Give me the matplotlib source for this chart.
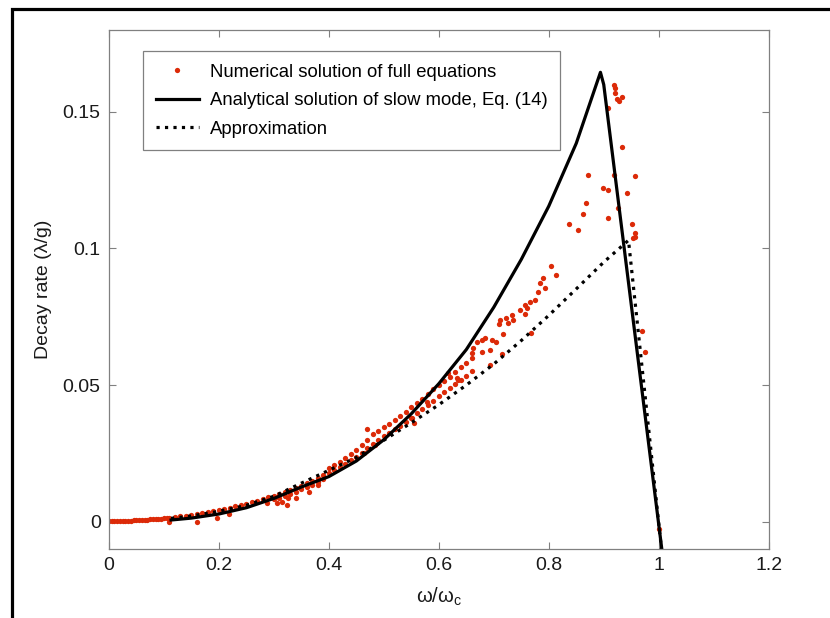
import matplotlib
matplotlib.use('Agg')

import matplotlib.pyplot as plt
from matplotlib.patches import Rectangle

plt.rcParams['font.family'] = ['Liberation Sans', 'DejaVu Sans']
plt.rcParams['mathtext.fontset'] = 'custom'
plt.rcParams['mathtext.rm'] = 'Liberation Sans'

# Solution analytique (mode lent, Eq. 14)
slow_x = [0.113, 0.15, 0.20, 0.25, 0.30, 0.35, 0.40, 0.45, 0.50, 0.55, 0.60,
          0.65, 0.70, 0.75, 0.80, 0.85, 0.894, 0.900, 1.0056]
slow_y = [0.0006, 0.0013, 0.0028, 0.0051, 0.0085, 0.0127, 0.0165, 0.0222, 0.0300,
          0.0395, 0.0505, 0.0630, 0.0785, 0.0960, 0.1155, 0.1385, 0.1645, 0.1600, -0.0100]

# Approximation
approx_x = [0.113, 0.15, 0.20, 0.25, 0.30, 0.35, 0.40, 0.45, 0.50, 0.55, 0.60,
            0.65, 0.70, 0.75, 0.80, 0.85, 0.90, 0.945, 1.005]
approx_y = [0.0012, 0.0021, 0.0038, 0.0060, 0.0093, 0.0141, 0.0188, 0.0235, 0.0298,
            0.0362, 0.0428, 0.0500, 0.0577, 0.0663, 0.0755, 0.0852, 0.0950, 0.1030, -0.0100]

# Solution numérique (points rouges)
low_x = [0.000, 0.005, 0.010, 0.015, 0.020, 0.025, 0.030, 0.035, 0.040, 0.045, 0.050,
         0.055, 0.060, 0.065, 0.070, 0.075, 0.080, 0.085, 0.090, 0.095, 0.100, 0.105, 0.110]
low_y = [0.0002, 0.0002, 0.0002, 0.0002, 0.0003, 0.0003, 0.0003, 0.0004, 0.0004, 0.0005, 0.0005,
         0.0006, 0.0006, 0.0007, 0.0007, 0.0008, 0.0009, 0.0010, 0.0010, 0.0011, 0.0012, 0.0013, 0.0014]

band_x = [0.12, 0.13, 0.14, 0.15, 0.16, 0.17, 0.18, 0.19, 0.20, 0.21, 0.22, 0.23, 0.24, 0.25,
          0.26, 0.27, 0.28, 0.29, 0.30, 0.31, 0.32, 0.33, 0.34, 0.35, 0.36, 0.37, 0.38, 0.39]
band_y = [0.0016, 0.0019, 0.0022, 0.0025, 0.0028, 0.0031, 0.0035, 0.0039, 0.0043, 0.0047,
          0.0051, 0.0056, 0.0061, 0.0066, 0.0071, 0.0077, 0.0083, 0.0089, 0.0095, 0.0102,
          0.0109, 0.0116, 0.0124, 0.0132, 0.0141, 0.0150, 0.0160, 0.0170]
band_low_x = [0.30, 0.31, 0.32, 0.33, 0.34, 0.35, 0.36, 0.37, 0.38, 0.39]
band_low_y = [0.0082, 0.0088, 0.0095, 0.0102, 0.0110, 0.0118, 0.0126, 0.0135, 0.0145, 0.0155]

mid_x = [0.40, 0.41, 0.42, 0.43, 0.44, 0.45, 0.46, 0.47, 0.48, 0.49, 0.50, 0.51, 0.52, 0.53,
         0.54, 0.55, 0.56, 0.57, 0.58, 0.59, 0.60, 0.61, 0.62, 0.63, 0.64, 0.65, 0.66]
mid_up_y = [0.0195, 0.0207, 0.0219, 0.0232, 0.0246, 0.0262, 0.0280, 0.0300, 0.0322, 0.0333,
            0.0345, 0.0358, 0.0372, 0.0387, 0.0402, 0.0418, 0.0434, 0.0450, 0.0467, 0.0484,
            0.0502, 0.0515, 0.0530, 0.0548, 0.0565, 0.0580, 0.0598]
mid_lo_y = [0.0178, 0.0189, 0.0200, 0.0212, 0.0224, 0.0238, 0.0252, 0.0268, 0.0285, 0.0300,
            0.0312, 0.0325, 0.0338, 0.0352, 0.0366, 0.0381, 0.0396, 0.0411, 0.0427, 0.0443,
            0.0460, 0.0475, 0.0490, 0.0505, 0.0520, 0.0535, 0.0550]

scatter_x = [0.109, 0.160, 0.197, 0.219, 0.287, 0.305, 0.314, 0.323, 0.326, 0.341, 0.363,
             0.381, 0.469, 0.484, 0.463, 0.578, 0.551, 0.554, 0.635, 0.617,
             0.837, 0.854, 0.8035, 0.813, 0.790, 0.784, 0.793, 0.781, 0.775, 0.766, 0.757,
             0.760, 0.748, 0.757, 0.734, 0.735, 0.723, 0.726, 0.711, 0.710, 0.717, 0.767,
             0.684, 0.678, 0.669, 0.696, 0.704, 0.663, 0.678, 0.693, 0.660, 0.715, 0.694,
             0.919, 0.920, 0.920, 0.9236, 0.928, 0.9325, 0.908, 0.9325, 0.871, 0.919, 0.956,
             0.898, 0.908, 0.943, 0.8677, 0.9265, 0.863, 0.907, 0.951, 0.9576, 0.9576,
             0.9525, 0.9696, 0.9745, 1.001, 0.6325]
scatter_y = [0.0000, 0.0000, 0.0015, 0.0028, 0.0067, 0.0067, 0.0073, 0.0061, 0.0086, 0.0086, 0.0110,
             0.0134, 0.0338, 0.0280, 0.0250, 0.0439, 0.0378, 0.0360, 0.0518, 0.0543,
             0.1089, 0.1067, 0.0937, 0.0902, 0.0891, 0.0872, 0.0854, 0.0842, 0.0811, 0.0805, 0.0793,
             0.0781, 0.0775, 0.0762, 0.0756, 0.0740, 0.0744, 0.0726, 0.0738, 0.0723, 0.0687, 0.0692,
             0.0671, 0.0665, 0.0656, 0.0665, 0.0659, 0.0634, 0.0622, 0.0628, 0.0616, 0.0614, 0.0573,
             0.1598, 0.1586, 0.1570, 0.1546, 0.1540, 0.1555, 0.1515, 0.1372, 0.1269, 0.1269, 0.1265,
             0.1221, 0.1214, 0.1204, 0.1165, 0.1147, 0.1125, 0.1112, 0.1089, 0.1055, 0.1043,
             0.1037, 0.0699, 0.0622, -0.0027, 0.0525]

x_ticks = [0, 0.2, 0.4, 0.6, 0.8, 1.0, 1.2]
x_labels = ['0', '0.2', '0.4', '0.6', '0.8', '1', '1.2']
y_ticks = [0, 0.05, 0.1, 0.15]
y_labels = ['0', '0.05', '0.1', '0.15']

red = '#dc2a08'
grey = '#808080'
ink = '#1a1a1a'

fig = plt.figure(figsize=(8.3, 6.18), dpi=100)
ax = fig.add_axes([0.1313, 0.1117, 0.7948, 0.8398])

# Points rouges (sous les courbes)
dot_kw = dict(linestyle='none', marker='o', markersize=3.8, color=red, markeredgewidth=0)
num_x = low_x + band_x + band_low_x + mid_x + mid_x + scatter_x
num_y = low_y + band_y + band_low_y + mid_up_y + mid_lo_y + scatter_y
ax.plot(num_x, num_y, label='Numerical solution of full equations', **dot_kw)

ax.plot(slow_x, slow_y, color='black', linewidth=2.3,
        label='Analytical solution of slow mode, Eq. (14)')
ax.plot(approx_x, approx_y, color='black', linewidth=2.3, linestyle=':',
        label='Approximation')

ax.set_xlim(0, 1.2)
ax.set_ylim(-0.01, 0.18)
ax.set_xticks(x_ticks)
ax.set_xticklabels(x_labels)
ax.set_yticks(y_ticks)
ax.set_yticklabels(y_labels)
ax.tick_params(direction='in', top=True, right=True, length=5, width=0.8,
               color=grey, labelsize=14, labelcolor=ink, pad=6)
for sp in ax.spines.values():
    sp.set_color(grey)
    sp.set_linewidth(0.9)

ax.set_xlabel('ω/ω$_\\mathregular{c}$', fontsize=14.5, color=ink, labelpad=8)
ax.set_ylabel('Decay rate (λ/g)', fontsize=14, color=ink, labelpad=8)

leg = ax.legend(loc='upper left', bbox_to_anchor=(0.052, 0.96), borderaxespad=0,
                fancybox=False, framealpha=1, edgecolor=grey, fontsize=13.3,
                handlelength=2.3, labelspacing=0.62, borderpad=0.7, handletextpad=0.6,
                markerscale=1.0)
leg.get_frame().set_linewidth(0.9)

# Cadre noir autour de la figure
fig.add_artist(Rectangle((0.0145, -0.5), 1.5, 1.4862, transform=fig.transFigure,
                         fill=False, edgecolor='black', linewidth=2.3, clip_on=False))

fig.savefig('out.png', dpi=100, facecolor='white')
plt.close(fig)
